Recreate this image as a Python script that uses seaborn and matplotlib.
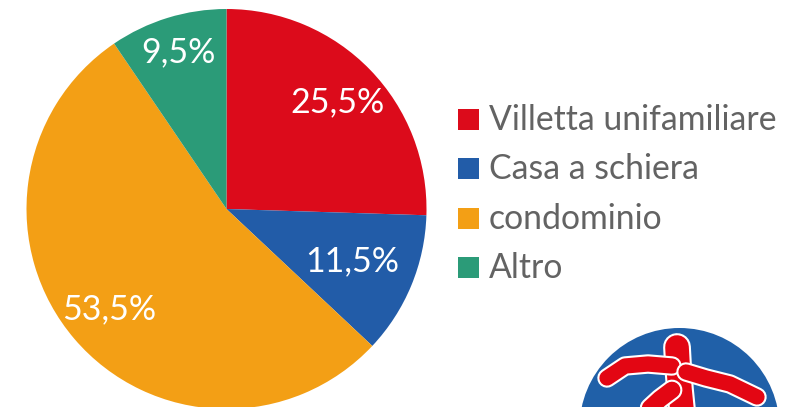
import matplotlib
matplotlib.use("Agg")
import matplotlib.pyplot as plt
import seaborn as sns
from matplotlib.patches import Circle, Rectangle
import numpy as np

categories = ["Villetta unifamiliare", "Casa a schiera", "condominio", "Altro"]
shares = [25.5, 11.5, 53.5, 9.5]
pct_labels = ["25,5%", "11,5%", "53,5%", "9,5%"]
colors = ["#DC0B1B", "#225CA8", "#F39F15", "#2B9B78"]

sns.set_theme(style="white")
plt.rcParams["font.family"] = ["Lato", "DejaVu Sans"]

W, H = 799, 407
fig = plt.figure(figsize=(W / 100, H / 100), dpi=100)
fig.patch.set_facecolor("white")

# pie axes: center (226.5, 209) px from top, radius 200 px
cx, cy, r = 226.5, H - 209, 200
ax = fig.add_axes([(cx - r) / W, (cy - r) / H, 2 * r / W, 2 * r / H])
wedges, _ = ax.pie(shares, colors=colors, startangle=90, counterclock=False,
                   wedgeprops=dict(linewidth=0))
ax.set_xlim(-1, 1)
ax.set_ylim(-1, 1)
ax.set_aspect("equal")
ax.axis("off")

# label radii per wedge (best-fit style placement)
label_r = [0.77, 0.68, 0.77, 0.82]
for w, lab, lr in zip(wedges, pct_labels, label_r):
    ang = np.deg2rad((w.theta1 + w.theta2) / 2)
    ax.text(lr * np.cos(ang), lr * np.sin(ang), lab, color="white",
            fontsize=24.5, ha="center", va="center")

# legend drawn in pixel coordinates
lax = fig.add_axes([0, 0, 1, 1])
lax.set_xlim(0, W)
lax.set_ylim(H, 0)
lax.axis("off")
lax.patch.set_alpha(0)
rows_y = [119, 168, 218, 267]
for c, name, y in zip(colors, categories, rows_y):
    lax.add_patch(Rectangle((458, y - 10.5), 21, 21, color=c, lw=0))
    lax.text(489, y + 1, name, color="#636363", fontsize=24.3,
             ha="left", va="center")

# partial logo at bottom right
lax.add_patch(Circle((679.5, 428), 100, color="#2060A8", lw=0))
red = "#E30613"
for xs, ys, lw in [
    ([677, 678, 680, 682], [347, 365, 390, 410], 17),
    ([607, 625, 648, 672], [378, 366, 364, 366], 11),
    ([686, 706, 730, 757], [372, 378, 384, 397], 11),
    ([672, 660, 648], [390, 399, 410], 12),
]:
    lax.plot(xs, ys, color="white", lw=lw + 3, solid_capstyle="round")
    lax.plot(xs, ys, color=red, lw=lw, solid_capstyle="round")
lax.add_patch(Circle((677, 345), 9.5, color=red, lw=0))

fig.savefig("out.png", dpi=100, facecolor="white")
